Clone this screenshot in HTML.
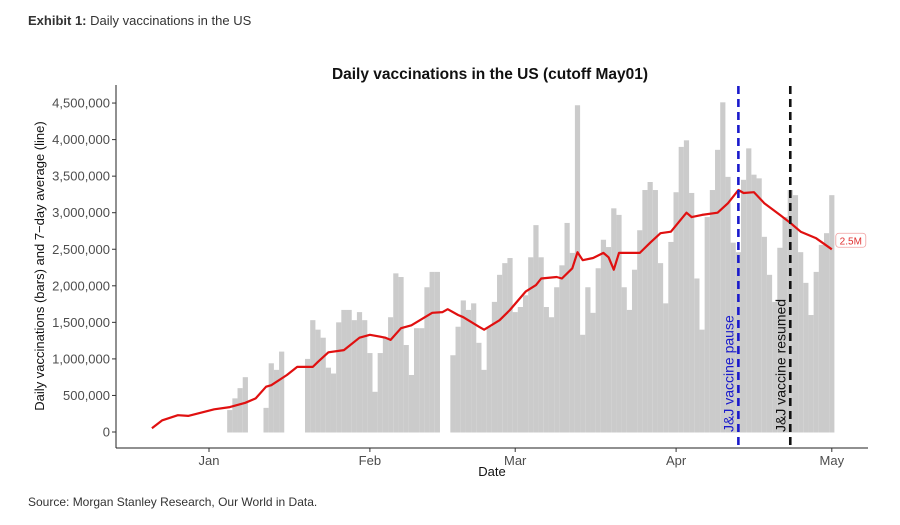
<!DOCTYPE html>
<html><head><meta charset="utf-8"><style>
body{margin:0;background:#fff;width:900px;height:520px;overflow:hidden;font-family:"Liberation Sans",sans-serif}
</style></head><body>
<svg id="chart" width="900" height="520" xmlns="http://www.w3.org/2000/svg">
<text x="28" y="25" font-size="13" fill="#333"><tspan font-weight="bold">Exhibit 1:</tspan> Daily vaccinations in the US</text>
<text x="490" y="79" font-size="15.5" font-weight="bold" text-anchor="middle" fill="#111">Daily vaccinations in the US (cutoff May01)</text>
<g id="bars"></g>
<g id="line"></g>
<g id="axes"></g>
<text x="492" y="476" font-size="13" text-anchor="middle" fill="#111">Date</text>
<text transform="translate(44,266) rotate(-90)" font-size="13" text-anchor="middle" fill="#111">Daily vaccinations (bars) and 7−day average (line)</text>
<text x="28" y="506" font-size="12" fill="#333">Source: Morgan Stanley Research, Our World in Data.</text>
</svg>
<script>
// day index: 0 = Jan 1 2021; values in millions
const barStartDay = 4;
const barValues = [0.30,0.46,0.60,0.75,null,null,null,0.33,0.94,0.85,1.10,null,null,null,null,
1.00,1.53,1.40,1.29,0.88,0.80,1.50,1.67,1.67,1.53,1.64,1.53,1.08,0.55,1.08,1.29,1.57,2.17,2.12,1.19,0.78,1.42,1.42,1.98,2.19,2.19,null,null,
1.05,1.44,1.80,1.67,1.76,1.22,0.85,1.44,1.78,2.15,2.31,2.38,1.64,1.71,1.87,2.39,2.83,2.39,1.71,1.57,1.98,2.28,2.86,2.45,4.47,1.33,1.98,1.63,2.24,2.63,2.53,
3.06,2.97,1.98,1.67,2.22,2.76,3.31,3.42,3.31,2.31,1.76,2.60,3.28,3.90,3.99,3.27,2.10,1.40,2.94,3.31,3.86,4.51,3.49,2.59,2.46,3.45,3.88,3.52,3.47,2.67,2.15,1.78,2.52,2.94,3.31,3.24,2.46,2.04,1.60,2.19,2.56,2.72,3.24];
const lineDays = [-11,-9,-6,-4,1,4,7,9,11,12,15,17,20,21,23,26,29,31,34,35,37,39,43,45,46,48,49,52,53,56,58,61,63,64,67,68,70,71,72,74,76,77,78,79,83,85,87,89,92,93,95,98,100,102,103,105,107,110,112,114,117,120];
const lineValues = [0.05,0.16,0.23,0.22,0.31,0.34,0.40,0.46,0.62,0.64,0.78,0.89,0.89,0.96,1.09,1.12,1.29,1.33,1.29,1.26,1.42,1.46,1.63,1.64,1.68,1.60,1.57,1.44,1.40,1.53,1.67,1.92,2.01,2.10,2.12,2.10,2.24,2.46,2.35,2.38,2.45,2.39,2.22,2.45,2.45,2.59,2.72,2.74,3.00,2.94,2.97,3.00,3.13,3.31,3.27,3.28,3.13,2.97,2.86,2.74,2.65,2.50];
const yTicks = [0,0.5,1,1.5,2,2.5,3,3.5,4,4.5];
const yTickLabels = ["0","500,000","1,000,000","1,500,000","2,000,000","2,500,000","3,000,000","3,500,000","4,000,000","4,500,000"];
const xTickDays = [0,31,59,90,120];
const xTickLabels = ["Jan","Feb","Mar","Apr","May"];
const eventDays = [102,112];
const eventLabels = ["J&J vaccine pause","J&J vaccine resumed"];
const eventColors = ["#1a1acc","#111"];
const endLabel = "2.5M";

const NS="http://www.w3.org/2000/svg";
const X = d => 209 + d*5.19;
const Y = v => 432 - v*73.1;
function mk(tag, attrs, parent){const e=document.createElementNS(NS,tag);for(const k in attrs)e.setAttribute(k,attrs[k]);parent.appendChild(e);return e;}
const bars=document.getElementById('bars'), lineG=document.getElementById('line'), axes=document.getElementById('axes');
barValues.forEach((v,i)=>{
  if(v==null) return;
  const d=barStartDay+i;
  const r=mk('rect',{x:X(d)-2.6,y:Y(v),width:5.2,height:Y(0)-Y(v)+0.5,fill:'#cbcbcb'},bars);
  
  
});
let dstr=lineDays.map((d,i)=>(i?'L':'M')+X(d).toFixed(1)+','+Y(lineValues[i]).toFixed(1)).join('');
const p=mk('path',{d:dstr,fill:'none',stroke:'#e01010','stroke-width':2.2,'stroke-linejoin':'round'},lineG);


eventDays.forEach((d,i)=>{
  const l=mk('line',{x1:X(d),x2:X(d),y1:86,y2:448,stroke:eventColors[i],'stroke-width':2.6,'stroke-dasharray':'8,5'},lineG);
  
  
  const t=mk('text',{transform:`translate(${X(d)-5},432) rotate(-90)`,'font-size':14,fill:eventColors[i]},lineG);
  t.textContent=eventLabels[i];
  
  
});
const ld=lineDays[lineDays.length-1], lv=lineValues[lineValues.length-1];
const lb=mk('rect',{x:X(ld)+4,y:Y(lv)-16,width:30,height:14,rx:3,fill:'#fff',stroke:'#f0a0a0','stroke-width':0.8},lineG);


const lt=mk('text',{x:X(ld)+19,y:Y(lv)-5,'font-size':10,fill:'#e03030','text-anchor':'middle'},lineG);
lt.textContent=endLabel;


const ya=mk('line',{x1:116,x2:116,y1:85,y2:448,stroke:'#222','stroke-width':1},axes);


const xa=mk('line',{x1:116,x2:868,y1:448,y2:448,stroke:'#222','stroke-width':1},axes);


yTicks.forEach((v,i)=>{
  const tk=mk('line',{x1:112,x2:116,y1:Y(v),y2:Y(v),stroke:'#333'},axes);
  
  
  const t=mk('text',{x:110,y:Y(v)+4.5,'font-size':13,fill:'#4d4d4d','text-anchor':'end'},axes);
  t.textContent=yTickLabels[i];
  
  
});
xTickDays.forEach((d,i)=>{
  const tk=mk('line',{x1:X(d),x2:X(d),y1:448,y2:452,stroke:'#333'},axes);
  
  
  const t=mk('text',{x:X(d),y:465,'font-size':13,fill:'#4d4d4d','text-anchor':'middle'},axes);
  t.textContent=xTickLabels[i];
  
  
});
</script>
</body></html>
